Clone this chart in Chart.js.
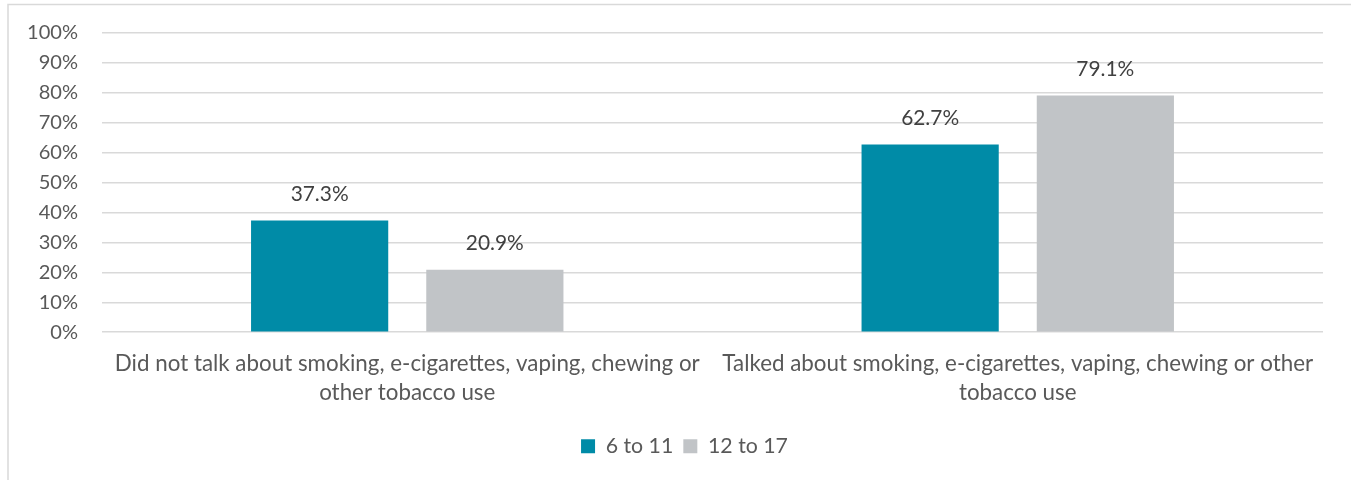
<!DOCTYPE html>
<html><head><meta charset="utf-8">
<script src="https://cdn.jsdelivr.net/npm/chart.js@4/dist/chart.umd.min.js"></script>
<style>html,body{margin:0;padding:0;background:#fff;overflow:hidden}#wrap{width:1351px;height:480px;position:relative}canvas{display:block}</style>
</head><body><div id="wrap"><canvas id="c" width="1351" height="480"></canvas></div>
<script>
const categories = [
  ["Did not talk about smoking, e-cigarettes, vaping, chewing or", "other tobacco use"],
  ["Talked about smoking, e-cigarettes, vaping, chewing or other", "tobacco use"]
];
const seriesNames = ["6 to 11", "12 to 17"];
const age6to11 = [37.3, 62.7];
const age12to17 = [20.9, 79.1];
const yTickValues = [0, 10, 20, 30, 40, 50, 60, 70, 80, 90, 100];

const FAMILY = "Lato, 'Open Sans', sans-serif";
function fitSize(text, target) {
  const c = document.createElement('canvas').getContext('2d');
  c.font = '100px ' + FAMILY;
  return 100 * target / c.measureText(text).width;
}
const catSize = fitSize(categories[0][0], 585);
const tickSize = fitSize("100%", 51);
const dlSize = fitSize("37.3%", 58);
const legSize = fitSize("12 to 17", 80);

const frame = {
  id: 'frame',
  beforeDraw(chart) {
    const ctx = chart.ctx;
    ctx.save();
    ctx.strokeStyle = '#d9d9d9';
    ctx.lineWidth = 1.5;
    ctx.beginPath();
    ctx.moveTo(8, 480); ctx.lineTo(8, 4.5); ctx.lineTo(1351, 4.5);
    ctx.stroke();
    ctx.restore();
  }
};
const legendShift = {
  id: 'legendShift',
  afterLayout(chart) {
    const lg = chart.legend;
    if (lg) { lg.left += 23; lg.right += 23; }
  }
};
const dataLabels = {
  id: 'dataLabels',
  afterDatasetsDraw(chart) {
    const ctx = chart.ctx;
    ctx.save();
    ctx.font = dlSize + 'px ' + FAMILY;
    ctx.fillStyle = '#404040';
    ctx.textAlign = 'center';
    ctx.textBaseline = 'middle';
    chart.data.datasets.forEach((ds, i) => {
      chart.getDatasetMeta(i).data.forEach((el, j) => {
        ctx.fillText(ds.data[j].toFixed(1) + '%', el.x, el.y - 26);
      });
    });
    ctx.restore();
  }
};

new Chart(document.getElementById('c'), {
  type: 'bar',
  data: {
    labels: categories,
    datasets: [
      { label: seriesNames[0], data: age6to11, backgroundColor: '#008BA7', borderWidth: 0 },
      { label: seriesNames[1], data: age12to17, backgroundColor: '#C1C4C7', borderWidth: 0 }
    ]
  },
  options: {
    responsive: false,
    animation: false,
    devicePixelRatio: 1,
    categoryPercentage: 0.574,
    barPercentage: 0.783,
    layout: { padding: { left: 0, top: 33, right: 28, bottom: 13 } },
    plugins: {
      tooltip: { enabled: false },
      legend: {
        position: 'bottom',
        labels: {
          boxWidth: 14, boxHeight: 14, padding: 10,
          color: '#595959',
          font: { family: FAMILY, size: legSize }
        }
      }
    },
    scales: {
      x: {
        grid: { display: false, drawTicks: false },
        border: { display: false },
        ticks: {
          color: '#595959', padding: 18, maxRotation: 0, autoSkip: false,
          font: { family: FAMILY, size: catSize, lineHeight: 1.26 }
        },
        afterFit(s) { s.height = 93.5; s.paddingLeft = 0; s.paddingRight = 0; }
      },
      y: {
        min: 0, max: 100,
        afterBuildTicks(s) { s.ticks = yTickValues.map(v => ({ value: v })); },
        grid: { color: '#d9d9d9', lineWidth: 1.5, drawTicks: false },
        border: { display: false },
        ticks: {
          color: '#595959', padding: 24,
          font: { family: FAMILY, size: tickSize },
          callback: v => v + '%'
        },
        afterFit(s) { s.width = 102; s.paddingTop = 0; s.paddingBottom = 0; }
      }
    }
  },
  plugins: [frame, legendShift, dataLabels]
});
</script>
</body></html>
